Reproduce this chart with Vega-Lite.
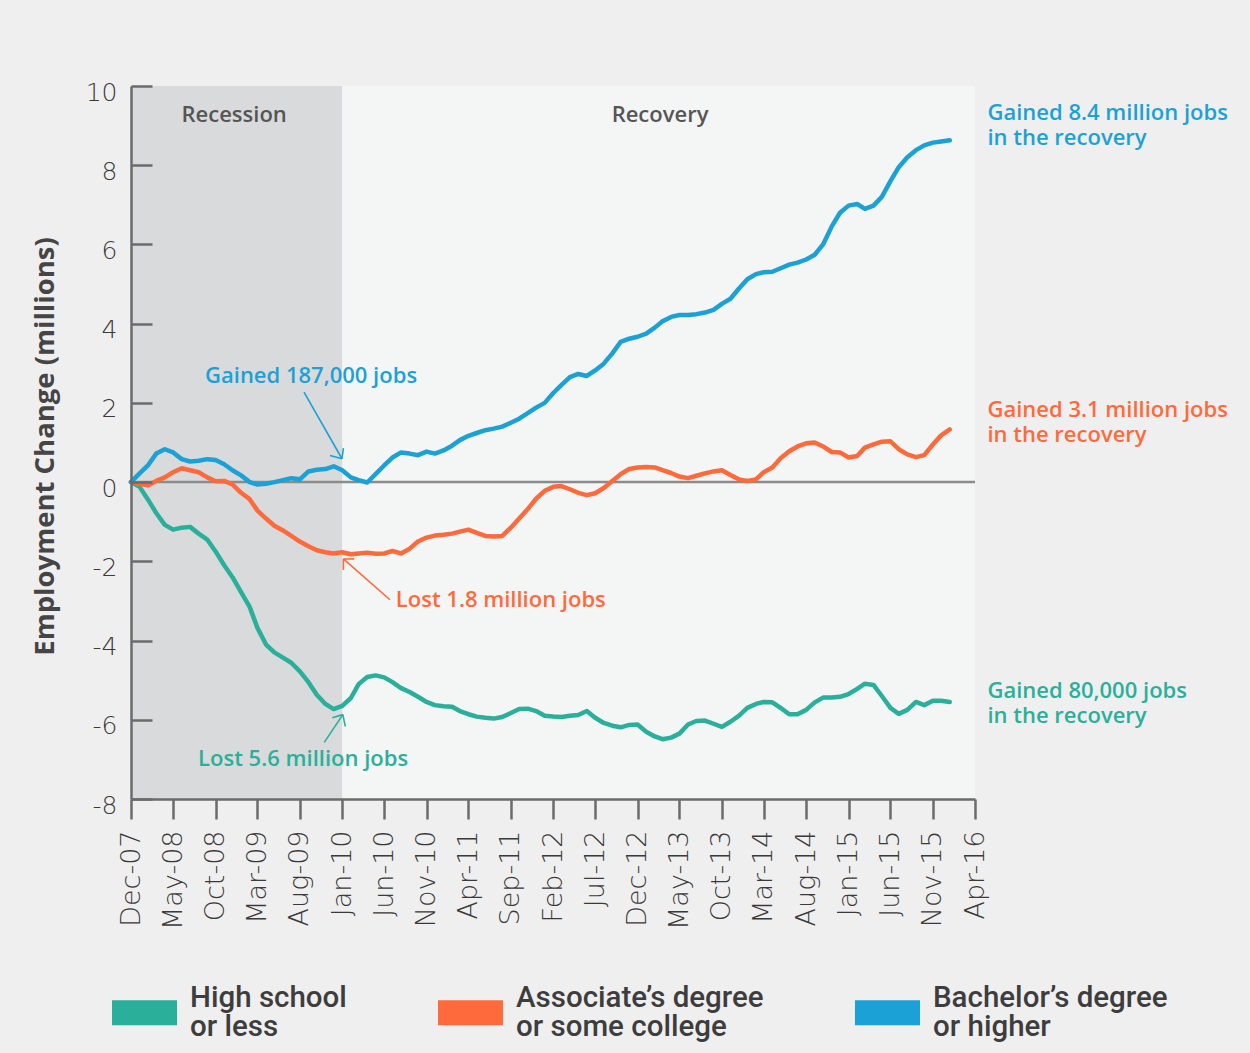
{
  "$schema": "https://vega.github.io/schema/vega-lite/v6.json",
  "width": 844,
  "height": 713,
  "autosize": {"type": "none"},
  "padding": {"left": 131, "top": 86, "right": 275, "bottom": 254},
  "background": "#efefef",
  "config": {"view": {"stroke": null}},
  "datasets": {
    "series": [
      {"date":"2007-12-01","hs":0,"ac":0,"ba":0},
      {"date":"2008-01-01","hs":-0.12,"ac":-0.05,"ba":0.22},
      {"date":"2008-02-01","hs":-0.45,"ac":-0.08,"ba":0.43},
      {"date":"2008-03-01","hs":-0.78,"ac":0.03,"ba":0.72},
      {"date":"2008-04-01","hs":-1.08,"ac":0.12,"ba":0.83},
      {"date":"2008-05-01","hs":-1.2,"ac":0.25,"ba":0.75},
      {"date":"2008-06-01","hs":-1.15,"ac":0.35,"ba":0.58},
      {"date":"2008-07-01","hs":-1.13,"ac":0.3,"ba":0.52},
      {"date":"2008-08-01","hs":-1.3,"ac":0.25,"ba":0.54},
      {"date":"2008-09-01","hs":-1.45,"ac":0.12,"ba":0.58},
      {"date":"2008-10-01","hs":-1.75,"ac":0.02,"ba":0.56},
      {"date":"2008-11-01","hs":-2.1,"ac":0.03,"ba":0.45},
      {"date":"2008-12-01","hs":-2.4,"ac":-0.06,"ba":0.3},
      {"date":"2009-01-01","hs":-2.78,"ac":-0.27,"ba":0.17},
      {"date":"2009-02-01","hs":-3.15,"ac":-0.43,"ba":0.0},
      {"date":"2009-03-01","hs":-3.68,"ac":-0.72,"ba":-0.06},
      {"date":"2009-04-01","hs":-4.1,"ac":-0.92,"ba":-0.04},
      {"date":"2009-05-01","hs":-4.3,"ac":-1.1,"ba":0.0},
      {"date":"2009-06-01","hs":-4.43,"ac":-1.22,"ba":0.05},
      {"date":"2009-07-01","hs":-4.56,"ac":-1.36,"ba":0.1},
      {"date":"2009-08-01","hs":-4.78,"ac":-1.5,"ba":0.07},
      {"date":"2009-09-01","hs":-5.05,"ac":-1.62,"ba":0.27},
      {"date":"2009-10-01","hs":-5.37,"ac":-1.72,"ba":0.31},
      {"date":"2009-11-01","hs":-5.6,"ac":-1.77,"ba":0.33},
      {"date":"2009-12-01","hs":-5.73,"ac":-1.8,"ba":0.4},
      {"date":"2010-01-01","hs":-5.65,"ac":-1.77,"ba":0.3},
      {"date":"2010-02-01","hs":-5.45,"ac":-1.82,"ba":0.12},
      {"date":"2010-03-01","hs":-5.1,"ac":-1.8,"ba":0.05},
      {"date":"2010-04-01","hs":-4.92,"ac":-1.78,"ba":-0.01},
      {"date":"2010-05-01","hs":-4.88,"ac":-1.81,"ba":0.2},
      {"date":"2010-06-01","hs":-4.93,"ac":-1.8,"ba":0.42},
      {"date":"2010-07-01","hs":-5.05,"ac":-1.74,"ba":0.62},
      {"date":"2010-08-01","hs":-5.2,"ac":-1.8,"ba":0.75},
      {"date":"2010-09-01","hs":-5.3,"ac":-1.68,"ba":0.72},
      {"date":"2010-10-01","hs":-5.42,"ac":-1.5,"ba":0.68},
      {"date":"2010-11-01","hs":-5.55,"ac":-1.4,"ba":0.77},
      {"date":"2010-12-01","hs":-5.63,"ac":-1.35,"ba":0.72},
      {"date":"2011-01-01","hs":-5.66,"ac":-1.33,"ba":0.8},
      {"date":"2011-02-01","hs":-5.67,"ac":-1.3,"ba":0.92},
      {"date":"2011-03-01","hs":-5.78,"ac":-1.25,"ba":1.06},
      {"date":"2011-04-01","hs":-5.86,"ac":-1.2,"ba":1.17},
      {"date":"2011-05-01","hs":-5.92,"ac":-1.28,"ba":1.24},
      {"date":"2011-06-01","hs":-5.95,"ac":-1.36,"ba":1.31},
      {"date":"2011-07-01","hs":-5.97,"ac":-1.37,"ba":1.35},
      {"date":"2011-08-01","hs":-5.93,"ac":-1.36,"ba":1.4},
      {"date":"2011-09-01","hs":-5.83,"ac":-1.15,"ba":1.5},
      {"date":"2011-10-01","hs":-5.73,"ac":-0.92,"ba":1.6},
      {"date":"2011-11-01","hs":-5.72,"ac":-0.68,"ba":1.74},
      {"date":"2011-12-01","hs":-5.78,"ac":-0.42,"ba":1.88},
      {"date":"2012-01-01","hs":-5.9,"ac":-0.22,"ba":2.0},
      {"date":"2012-02-01","hs":-5.92,"ac":-0.12,"ba":2.25},
      {"date":"2012-03-01","hs":-5.93,"ac":-0.1,"ba":2.45},
      {"date":"2012-04-01","hs":-5.9,"ac":-0.18,"ba":2.65},
      {"date":"2012-05-01","hs":-5.88,"ac":-0.27,"ba":2.73},
      {"date":"2012-06-01","hs":-5.78,"ac":-0.33,"ba":2.68},
      {"date":"2012-07-01","hs":-5.95,"ac":-0.28,"ba":2.82},
      {"date":"2012-08-01","hs":-6.08,"ac":-0.15,"ba":2.99},
      {"date":"2012-09-01","hs":-6.15,"ac":0.03,"ba":3.25},
      {"date":"2012-10-01","hs":-6.19,"ac":0.2,"ba":3.54},
      {"date":"2012-11-01","hs":-6.13,"ac":0.33,"ba":3.62},
      {"date":"2012-12-01","hs":-6.12,"ac":0.37,"ba":3.67},
      {"date":"2013-01-01","hs":-6.3,"ac":0.38,"ba":3.75},
      {"date":"2013-02-01","hs":-6.42,"ac":0.37,"ba":3.9},
      {"date":"2013-03-01","hs":-6.49,"ac":0.3,"ba":4.06},
      {"date":"2013-04-01","hs":-6.45,"ac":0.23,"ba":4.17},
      {"date":"2013-05-01","hs":-6.35,"ac":0.14,"ba":4.22},
      {"date":"2013-06-01","hs":-6.12,"ac":0.1,"ba":4.22},
      {"date":"2013-07-01","hs":-6.03,"ac":0.16,"ba":4.24},
      {"date":"2013-08-01","hs":-6.02,"ac":0.22,"ba":4.28},
      {"date":"2013-09-01","hs":-6.1,"ac":0.27,"ba":4.35},
      {"date":"2013-10-01","hs":-6.18,"ac":0.3,"ba":4.5},
      {"date":"2013-11-01","hs":-6.05,"ac":0.18,"ba":4.63},
      {"date":"2013-12-01","hs":-5.9,"ac":0.07,"ba":4.88},
      {"date":"2014-01-01","hs":-5.7,"ac":0.03,"ba":5.12},
      {"date":"2014-02-01","hs":-5.6,"ac":0.07,"ba":5.25},
      {"date":"2014-03-01","hs":-5.55,"ac":0.25,"ba":5.3},
      {"date":"2014-04-01","hs":-5.56,"ac":0.37,"ba":5.31},
      {"date":"2014-05-01","hs":-5.7,"ac":0.6,"ba":5.4},
      {"date":"2014-06-01","hs":-5.86,"ac":0.78,"ba":5.49},
      {"date":"2014-07-01","hs":-5.86,"ac":0.9,"ba":5.54},
      {"date":"2014-08-01","hs":-5.75,"ac":0.98,"ba":5.62},
      {"date":"2014-09-01","hs":-5.56,"ac":1.0,"ba":5.74},
      {"date":"2014-10-01","hs":-5.44,"ac":0.9,"ba":6.0},
      {"date":"2014-11-01","hs":-5.44,"ac":0.76,"ba":6.45},
      {"date":"2014-12-01","hs":-5.42,"ac":0.75,"ba":6.8},
      {"date":"2015-01-01","hs":-5.35,"ac":0.62,"ba":6.98},
      {"date":"2015-02-01","hs":-5.22,"ac":0.66,"ba":7.02},
      {"date":"2015-03-01","hs":-5.09,"ac":0.87,"ba":6.9},
      {"date":"2015-04-01","hs":-5.12,"ac":0.95,"ba":6.98},
      {"date":"2015-05-01","hs":-5.4,"ac":1.02,"ba":7.2},
      {"date":"2015-06-01","hs":-5.7,"ac":1.03,"ba":7.6},
      {"date":"2015-07-01","hs":-5.85,"ac":0.83,"ba":7.95},
      {"date":"2015-08-01","hs":-5.75,"ac":0.7,"ba":8.2},
      {"date":"2015-09-01","hs":-5.55,"ac":0.63,"ba":8.38},
      {"date":"2015-10-01","hs":-5.63,"ac":0.68,"ba":8.5},
      {"date":"2015-11-01","hs":-5.52,"ac":0.95,"ba":8.57},
      {"date":"2015-12-01","hs":-5.52,"ac":1.18,"ba":8.6},
      {"date":"2016-01-01","hs":-5.55,"ac":1.33,"ba":8.63}
    ]
  },
  "encoding": {
    "x": {
      "field": "date",
      "type": "temporal",
      "title": null,
      "scale": {
        "type": "utc",
        "nice": false,
        "domain": [
          {"year": 2007, "month": 12, "date": 1, "utc": true},
          {"year": 2016, "month": 4, "date": 1, "utc": true}
        ]
      },
      "axis": {
        "values": [
          {"year": 2007, "month": 12, "date": 1, "utc": true},
          {"year": 2008, "month": 5, "date": 1, "utc": true},
          {"year": 2008, "month": 10, "date": 1, "utc": true},
          {"year": 2009, "month": 3, "date": 1, "utc": true},
          {"year": 2009, "month": 8, "date": 1, "utc": true},
          {"year": 2010, "month": 1, "date": 1, "utc": true},
          {"year": 2010, "month": 6, "date": 1, "utc": true},
          {"year": 2010, "month": 11, "date": 1, "utc": true},
          {"year": 2011, "month": 4, "date": 1, "utc": true},
          {"year": 2011, "month": 9, "date": 1, "utc": true},
          {"year": 2012, "month": 2, "date": 1, "utc": true},
          {"year": 2012, "month": 7, "date": 1, "utc": true},
          {"year": 2012, "month": 12, "date": 1, "utc": true},
          {"year": 2013, "month": 5, "date": 1, "utc": true},
          {"year": 2013, "month": 10, "date": 1, "utc": true},
          {"year": 2014, "month": 3, "date": 1, "utc": true},
          {"year": 2014, "month": 8, "date": 1, "utc": true},
          {"year": 2015, "month": 1, "date": 1, "utc": true},
          {"year": 2015, "month": 6, "date": 1, "utc": true},
          {"year": 2015, "month": 11, "date": 1, "utc": true},
          {"year": 2016, "month": 4, "date": 1, "utc": true}
        ],
        "labelExpr": "utcFormat(datum.value, '%b-%y')",
        "labelAngle": -90,
        "labelPadding": 11,
        "tickSize": 20,
        "tickWidth": 2.5,
        "tickColor": "#6b6b6b",
        "domainColor": "#6b6b6b",
        "domainWidth": 2.5,
        "labelFont": "DejaVu Sans",
        "labelFontSize": 27,
        "labelFontWeight": 300,
        "labelColor": "#3a3a3a",
        "labelOverlap": false,
        "labelBound": false,
        "labelFlush": false,
        "grid": false,
        "zindex": 1
      }
    },
    "y": {
      "field": "value",
      "type": "quantitative",
      "title": "Employment Change (millions)",
      "scale": {"domain": [-8, 10], "nice": false, "zero": false},
      "axis": {
        "values": [-8, -6, -4, -2, 0, 2, 4, 6, 8, 10],
        "labelExpr": "datum.value + ''",
        "tickSize": -21,
        "labelPadding": 35,
        "labelOffset": 6,
        "tickWidth": 2.5,
        "tickColor": "#6b6b6b",
        "domainColor": "#6b6b6b",
        "domainWidth": 2.5,
        "labelFont": "DejaVu Sans",
        "labelFontSize": 25,
        "labelFontWeight": 300,
        "labelColor": "#3a3a3a",
        "labelOverlap": false,
        "labelFlush": false,
        "grid": false,
        "zindex": 1,
        "titleX": -86,
        "titleY": 360,
        "titleAngle": 270,
        "titleAlign": "center",
        "titleBaseline": "middle",
        "titleFont": "Open Sans",
        "titleFontSize": 27.5,
        "titleFontWeight": "bold",
        "titleColor": "#454545"
      }
    }
  },
  "layer": [
    {
      "data": {"values": [
        {"date": "2007-12-01", "date2": "2010-01-01", "value": 10, "value2": -8, "period": "Recession"},
        {"date": "2010-01-01", "date2": "2016-04-01", "value": 10, "value2": -8, "period": "Recovery"}
      ]},
      "mark": {"type": "rect"},
      "encoding": {
        "x2": {"field": "date2"},
        "y2": {"field": "value2"},
        "fill": {"field": "period", "type": "nominal", "scale": {"domain": ["Recession", "Recovery"], "range": ["#d9dadc", "#f4f5f5"]}, "legend": null}
      }
    },
    {
      "data": {"values": [
        {"date": "2008-12-07", "value": 9.28, "text": "Recession"},
        {"date": "2013-02-20", "value": 9.28, "text": "Recovery"}
      ]},
      "mark": {"type": "text", "font": "Open Sans", "fontWeight": 600, "fontSize": 22, "color": "#555555", "align": "center", "baseline": "middle"},
      "encoding": {"text": {"field": "text"}}
    },
    {
      "data": {"values": [{"date": "2007-12-01", "date2": "2016-04-01", "value": 0}]},
      "mark": {"type": "rule", "color": "#8b8b8b", "strokeWidth": 2.5},
      "encoding": {"x2": {"field": "date2"}}
    },
    {
      "data": {"name": "series"},
      "transform": [{"fold": ["hs", "ac", "ba"], "as": ["series", "value"]}],
      "mark": {"type": "line", "strokeWidth": 4.5, "strokeJoin": "round", "strokeCap": "round"},
      "encoding": {
        "color": {
          "field": "series",
          "type": "nominal",
          "scale": {"domain": ["hs", "ac", "ba"], "range": ["#2ab09a", "#fe6a3c", "#1ca1d6"]},
          "legend": {
            "title": null,
            "orient": "none",
            "legendX": -19,
            "legendY": 894,
            "direction": "horizontal",
            "columns": 3,
            "symbolType": "M-1,-0.385H1V0.385H-1Z",
            "symbolSize": 4225,
            "symbolStrokeWidth": 0,
            "labelOffset": 13,
            "columnPadding": 91,
            "labelFont": "Roboto",
            "labelFontSize": 29.5,
            "labelFontWeight": 500,
            "labelColor": "#3d3d3d",
            "labelLimit": 400,
            "labelExpr": "datum.label == 'hs' ? ['High school', 'or less'] : datum.label == 'ac' ? ['Associate’s degree', 'or some college'] : ['Bachelor’s degree', 'or higher']",
            "encode": {
              "symbols": {"update": {"fill": {"scale": "color", "field": "value"}, "opacity": {"value": 1}}},
              "labels": {"update": {"lineHeight": {"value": 29}, "dy": {"value": -14.5}}}
            }
          }
        }
      }
    },
    {
      "data": {"values": [
        {"date": "2009-08-16", "value": 2.27, "date2": "2009-12-31", "value2": 0.59, "series": "ba"},
        {"date": "2009-12-31", "value": 0.59, "date2": "2010-01-05", "value2": 0.86, "series": "ba"},
        {"date": "2009-12-31", "value": 0.59, "date2": "2009-11-18", "value2": 0.67, "series": "ba"},
        {"date": "2010-06-22", "value": -2.97, "date2": "2010-01-05", "value2": -1.94, "series": "ac"},
        {"date": "2010-01-05", "value": -1.94, "date2": "2010-02-13", "value2": -1.94, "series": "ac"},
        {"date": "2010-01-05", "value": -1.94, "date2": "2010-01-05", "value2": -2.22, "series": "ac"},
        {"date": "2009-10-28", "value": -6.57, "date2": "2010-01-03", "value2": -5.87, "series": "hs"},
        {"date": "2010-01-03", "value": -5.87, "date2": "2010-01-12", "value2": -6.17, "series": "hs"},
        {"date": "2010-01-03", "value": -5.87, "date2": "2009-11-26", "value2": -5.95, "series": "hs"}
      ]},
      "mark": {"type": "rule", "strokeWidth": 1.6},
      "encoding": {
        "x2": {"field": "date2"},
        "y2": {"field": "value2"},
        "color": {"field": "series", "type": "nominal"}
      }
    },
    {
      "data": {"values": [
        {"date": "2008-08-24", "value": 2.69, "text": ["Gained 187,000 jobs"], "series": "ba"},
        {"date": "2010-07-13", "value": -2.97, "text": ["Lost 1.8 million jobs"], "series": "ac"},
        {"date": "2008-07-30", "value": -6.98, "text": ["Lost 5.6 million jobs"], "series": "hs"},
        {"date": "2016-05-16", "value": 9.33, "text": ["Gained 8.4 million jobs", "in the recovery"], "series": "ba"},
        {"date": "2016-05-16", "value": 1.83, "text": ["Gained 3.1 million jobs", "in the recovery"], "series": "ac"},
        {"date": "2016-05-16", "value": -5.27, "text": ["Gained 80,000 jobs", "in the recovery"], "series": "hs"}
      ]},
      "mark": {"type": "text", "font": "Open Sans", "fontWeight": 600, "fontSize": 22, "lineHeight": 25, "align": "left", "baseline": "middle", "clip": false},
      "encoding": {
        "text": {"field": "text"},
        "color": {"field": "series", "type": "nominal"}
      }
    }
  ]
}
